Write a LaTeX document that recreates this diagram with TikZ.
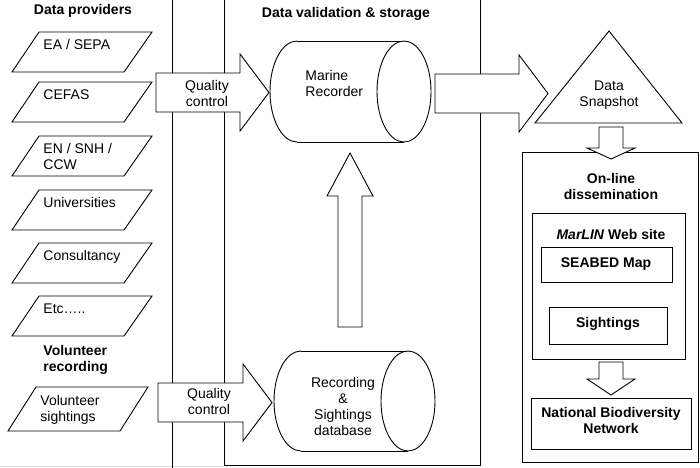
\documentclass[tikz,border=0pt]{standalone}
\usepackage{fontspec}
\setmainfont{Liberation Sans}
\newcommand\provbox[4]{% top, baseline offset of last line, name, text
  \draw[para] (39,#1) -- (152,#1) -- (124,#1+40) -- (12,#1+40) -- cycle;
  \node[anchor=base west, align=left] (#3) at (43,#1+#2) {#4};}
\newcommand\rblockarrow[6]{% x0, xbase, xtip, ymid, shaft half, head half
  \draw[barrow] (#1,#4-#5) -- (#2,#4-#5) -- (#2,#4-#6) -- (#3,#4) -- (#2,#4+#6)
    -- (#2,#4+#5) -- (#1,#4+#5) -- cycle;}
\newcommand\vblockarrow[6]{% xmid, y0, ybase, ytip, shaft half, head half
  \draw[barrow] (#1-#5,#2) -- (#1-#5,#3) -- (#1-#6,#3) -- (#1,#4) -- (#1+#6,#3)
    -- (#1+#5,#3) -- (#1+#5,#2) -- cycle;}
\newcommand\hcyl[5]{% xleft-centre, xright-centre, ymid, rx, ry
  \fill[white] (#1,#3-#5) rectangle (#2,#3+#5);
  \begin{scope}
    \clip (#1-#4-2,#3-#5-2) rectangle (#1,#3+#5+2);
    \draw (#1,#3) ellipse [x radius=#4, y radius=#5];
  \end{scope}
  \draw (#1,#3-#5) -- (#2,#3-#5) (#1,#3+#5) -- (#2,#3+#5);
  \draw[fill=white] (#2,#3) ellipse [x radius=#4, y radius=#5];}
\begin{document}
\begin{tikzpicture}[x=1pt,y=-1pt, line width=0.9pt,
  every node/.style={font=\fontsize{14}{16}\selectfont, inner sep=0pt},
  ttl/.style={font=\fontsize{14}{16}\selectfont\bfseries},
  para/.style={draw, fill=white, line join=miter},
  barrow/.style={draw, fill=white, line join=miter},
  panel/.style={draw}]
\useasboundingbox (0,0) rectangle (700,467);

% column frames
\draw[gray!25] (0,466) -- (224,466);
\draw (172,-2) -- (172,469);
\draw (224,-2) -- (224,465) -- (480,465) -- (480,-2);
\draw[panel] (522,152) rectangle (698,462);

% titles (multi-line nodes are placed by the baseline of their last line)
\node[ttl, anchor=base] (tprov) at (83,14) {Data providers};
\node[ttl, anchor=base] (tval) at (346,17) {Data validation \& storage};
\node[ttl, anchor=base west, align=left] (tvol) at (43,371) {Volunteer\\recording};

% providers
\provbox{32}{17.5}{ea}{EA / SEPA}
\provbox{82}{17.5}{cefas}{CEFAS}
\provbox{136}{33.5}{en}{EN / SNH /\\CCW}
\provbox{190}{17.5}{uni}{Universities}
\provbox{243}{17.5}{cons}{Consultancy}
\provbox{296}{17.5}{etc}{Etc…..}
\draw[para] (36,387) -- (148,387) -- (120,431) -- (8,431) -- cycle;
\node[anchor=base west, align=left] (vols) at (40,421) {Volunteer\\sightings};

% cylinders
\hcyl{297}{404}{91.5}{27}{50.5}
\node[anchor=base west, align=left] (mr) at (305,96) {Marine\\Recorder};
\hcyl{301}{408}{401}{27}{50}
\node[anchor=base, align=center] (rsd) at (343,435) {Recording\\\&\\Sightings\\database};

% block arrows
\rblockarrow{156}{240}{269}{92.5}{19.5}{38.5}
\node[anchor=base, align=center] (qc1) at (207,106) {Quality\\control};
\rblockarrow{158}{243}{272}{402.5}{19.5}{38.5}
\node[anchor=base, align=center] (qc2) at (209,414) {Quality\\control};
\rblockarrow{435}{519}{548}{93.5}{19.5}{38.5}
\vblockarrow{350}{327}{196}{153}{12}{23}

% snapshot
\draw[para] (609,31) -- (682,123) -- (535,123) -- cycle;
\node[anchor=base, align=center] (snap) at (609,106) {Data\\Snapshot};
\vblockarrow{611}{127}{148}{159}{12}{24}

% dissemination
\node[ttl, anchor=base, align=center] (online) at (611,199) {On-line\\dissemination};
\draw[panel] (532,213) rectangle (685,359);
\node[ttl, anchor=base] (marlin) at (611,239) {\textit{MarLIN} Web site};
\draw[panel] (541,247) rectangle (672,282);
\node[ttl, anchor=base] (seabed) at (606,267) {SEABED Map};
\draw[panel] (549,307) rectangle (667,344);
\node[ttl, anchor=base] (sight) at (608,327) {Sightings};
\vblockarrow{611}{362}{379}{395}{12}{24}
\draw[panel] (531,398) rectangle (691,449);
\node[ttl, anchor=base, align=center] (nbn) at (611,433) {National Biodiversity\\Network};
\end{tikzpicture}
\end{document}
